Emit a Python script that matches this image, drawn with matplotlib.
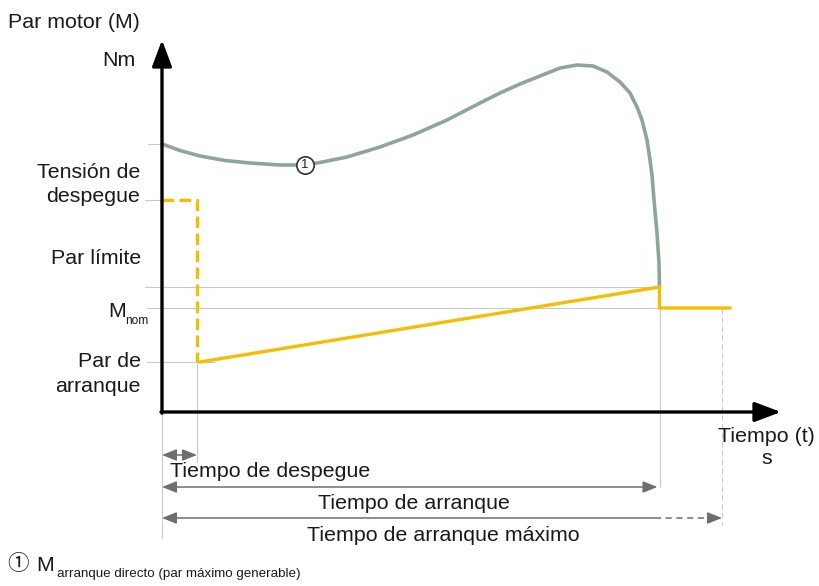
import numpy as np
import matplotlib
matplotlib.use("Agg")
import matplotlib.pyplot as plt

plt.rcParams["font.family"] = ["Liberation Sans", "DejaVu Sans", "Noto Sans CJK SC"]

# ---- data (time in arbitrary units, torque in arbitrary units) ----
# direct-on-line torque curve (M arranque directo)
T_CURVE = [0.00, 0.36, 0.76, 1.26, 1.76, 2.36, 2.86, 3.16, 3.70, 4.36, 5.02,
           5.70, 6.36, 6.76, 7.16, 7.56, 7.96, 8.30, 8.62, 8.90, 9.16, 9.36,
           9.50, 9.60, 9.70, 9.76, 9.80, 9.84, 9.90, 9.94, 9.95]
M_CURVE = [268, 261.5, 256, 251.5, 249, 247, 247, 249.5, 255, 265, 277,
           292, 309, 319, 328, 336, 344, 347, 346, 340, 330, 319,
           305, 292, 272, 252, 237, 212, 179, 149, 125]

M_BREAK = 212     # Tensión de despegue
M_LIMIT = 125     # Par límite
M_NOM = 104       # M nom
M_START = 50      # Par de arranque

T_BREAK = 0.70    # Tiempo de despegue
T_START = 9.95    # Tiempo de arranque
T_MAX = 11.20     # Tiempo de arranque máximo
T_END = 11.36     # end of drawn nominal torque segment

MARK_T, MARK_M = 2.86, 247   # position of the (1) label on the curve

Y_LABELS = ["Nm", "Tensión de", "despegue", "Par límite", "M", "nom",
            "Par de", "arranque"]
DIM_LABELS = ["Tiempo de despegue", "Tiempo de arranque",
              "Tiempo de arranque máximo"]

# ---- figure ----
W, H = 820, 586
fig = plt.figure(figsize=(W / 100, H / 100), dpi=100)
ax = fig.add_axes([0, 0, 1, 1])
PX_T = 50.0                     # pixels per time unit
X0, Y0 = 162, 412               # origin of the axes in pixels
ax.set_xlim(-X0 / PX_T, (W - X0) / PX_T)
ax.set_ylim(Y0 - H, Y0)
ax.axis("off")

def fx(px):
    return px / W

def fy(py):
    return 1 - py / H

GRID = "#c9c9c9"
DIM = "#6e6e6e"
GREEN = "#8ea697"
YELLOW = "#f6be00"
TXT = "#1a1a1a"
FS = 15.4

# reference (helper) lines
lw_ref = 0.8
ax.plot([-0.28, 0], [M_CURVE[0]] * 2, color=GRID, lw=lw_ref)
ax.plot([-0.34, 0], [M_BREAK] * 2, color=GRID, lw=lw_ref)
ax.plot([-0.34, T_START], [M_LIMIT] * 2, color=GRID, lw=lw_ref)
ax.plot([-0.30, T_END], [M_NOM] * 2, color=GRID, lw=lw_ref)
ax.plot([-0.30, 1.06], [M_START] * 2, color=GRID, lw=lw_ref)
ax.plot([0, 0], [0, -126], color=GRID, lw=lw_ref)
ax.plot([T_BREAK] * 2, [M_START, -50], color=GRID, lw=lw_ref)
ax.plot([T_START] * 2, [M_NOM, -75], color=GRID, lw=lw_ref)
ax.plot([T_MAX] * 2, [M_NOM, -113], color=GRID, lw=lw_ref, ls=(0, (5, 3)))

# torque curve
ax.plot(T_CURVE, M_CURVE, color=GREEN, lw=2.6, solid_capstyle="round",
        solid_joinstyle="round", zorder=3)

# breakaway / starting / nominal torque profile
ax.plot([0, T_BREAK, T_BREAK], [M_BREAK, M_BREAK, M_START], color=YELLOW,
        lw=2.4, ls=(0, (3.5, 1.6)), zorder=4)
ax.plot([T_BREAK + 0.06, T_START, T_START, T_END],
        [M_START, M_LIMIT, M_NOM, M_NOM], color=YELLOW, lw=2.4,
        solid_joinstyle="miter", zorder=4)

# axes arrows
arrow_kw = dict(arrowstyle="-|>,head_length=0.8,head_width=0.3",
                mutation_scale=20, lw=2.4, color="black",
                shrinkA=0, shrinkB=0)
ax.annotate("", xy=(0, 372), xytext=(0, -1.2), arrowprops=arrow_kw, zorder=5)
ax.annotate("", xy=(12.38, 0), xytext=(-0.02, 0), arrowprops=arrow_kw, zorder=5)

# dimension arrows
head = "head_length=0.55,head_width=0.22"
dim_kw = dict(arrowstyle="<|-|>," + head, mutation_scale=16, lw=1.1,
              color=DIM, shrinkA=0, shrinkB=0)
ax.annotate("", xy=(T_BREAK, -43), xytext=(0, -43), arrowprops=dim_kw)
ax.annotate("", xy=(T_START - 0.04, -75), xytext=(0, -75), arrowprops=dim_kw)
one_kw = dict(dim_kw, arrowstyle="-|>," + head)
ax.annotate("", xy=(0, -106), xytext=(T_START - 0.1, -106), arrowprops=one_kw)
ax.plot([T_START - 0.1, T_MAX - 0.2], [-106, -106], color=DIM, lw=1.1,
        ls=(0, (4, 3)))
ax.annotate("", xy=(T_MAX, -106), xytext=(T_MAX - 0.22, -106),
            arrowprops=one_kw)

# (1) marker on the curve
ax.plot([MARK_T], [MARK_M], "o", ms=12.5, mfc="white", mec="#333333",
        mew=1.2, zorder=6)
ax.text(MARK_T, MARK_M, "1", ha="center", va="center", fontsize=9.5,
        color="#222222", zorder=7)

# ---- texts ----
fig.text(fx(8), fy(28), "Par motor (M)", fontsize=FS, color=TXT,
         ha="left", va="baseline")
fig.text(fx(136), fy(66), Y_LABELS[0], fontsize=FS, color=TXT,
         ha="right", va="baseline")
fig.text(fx(140), fy(178), Y_LABELS[1], fontsize=FS, color=TXT,
         ha="right", va="baseline")
fig.text(fx(140), fy(202), Y_LABELS[2], fontsize=FS, color=TXT,
         ha="right", va="baseline")
fig.text(fx(141), fy(264), Y_LABELS[3], fontsize=FS, color=TXT,
         ha="right", va="baseline")
fig.text(fx(126), fy(317), Y_LABELS[4], fontsize=FS, color=TXT,
         ha="right", va="baseline")
fig.text(fx(125), fy(324), Y_LABELS[5], fontsize=8.6, color=TXT,
         ha="left", va="baseline")
fig.text(fx(141), fy(367), Y_LABELS[6], fontsize=FS, color=TXT,
         ha="right", va="baseline")
fig.text(fx(141), fy(392), Y_LABELS[7], fontsize=FS, color=TXT,
         ha="right", va="baseline")

fig.text(fx(718), fy(442), "Tiempo (t)", fontsize=FS, color=TXT,
         ha="left", va="baseline")
fig.text(fx(767), fy(464), "s", fontsize=FS, color=TXT,
         ha="center", va="baseline")

fig.text(fx(170), fy(477), DIM_LABELS[0], fontsize=FS, color=TXT,
         ha="left", va="baseline")
fig.text(fx(414), fy(509), DIM_LABELS[1], fontsize=FS, color=TXT,
         ha="center", va="baseline")
fig.text(fx(443), fy(541), DIM_LABELS[2], fontsize=FS, color=TXT,
         ha="center", va="baseline")

# footnote
fig.text(fx(18), fy(564), "①", fontsize=15.5, color=TXT,
         ha="center", va="center",
         family=["Noto Sans CJK SC", "DejaVu Sans"])
fig.text(fx(36), fy(571), "M", fontsize=FS, color=TXT,
         ha="left", va="baseline")
fig.text(fx(57), fy(577), "arranque directo (par máximo generable)",
         fontsize=9.6, color=TXT, ha="left", va="baseline")

fig.savefig("out.png", dpi=100, facecolor="white")
